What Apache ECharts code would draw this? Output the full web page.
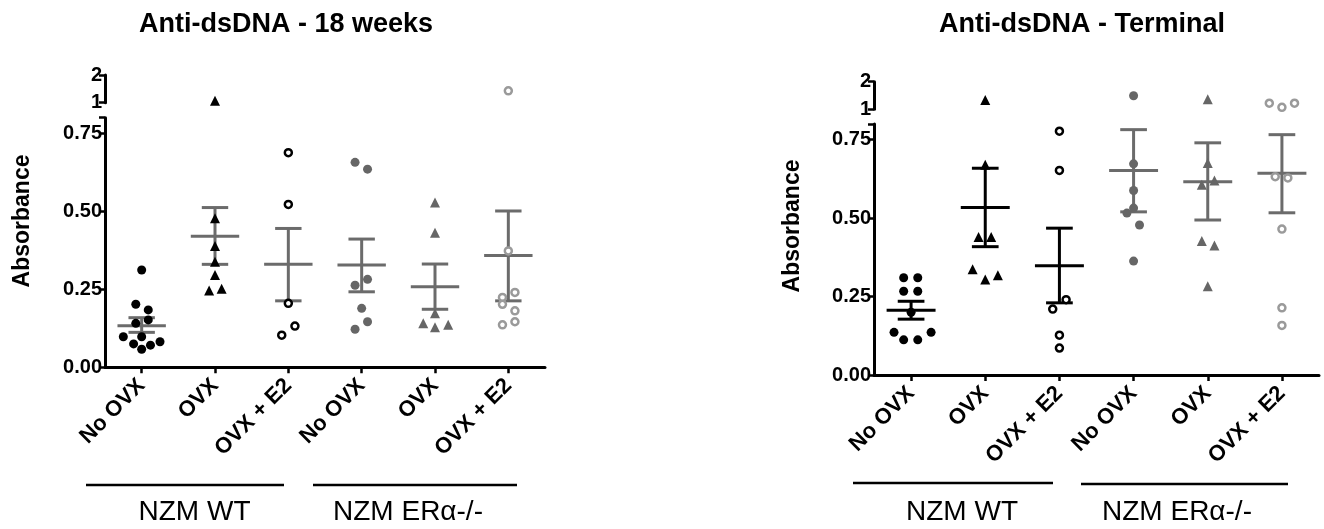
<!DOCTYPE html>
<html>
<head>
<meta charset="utf-8">
<script src="https://cdn.jsdelivr.net/npm/echarts@6/dist/echarts.min.js"></script>
<style>
  html, body { margin: 0; padding: 0; background: #fff; }
  #main { width: 1324px; height: 529px; }
</style>
</head>
<body>
<div id="main"></div>
<script>
// categories and tick labels
var categories = ["No OVX", "OVX", "OVX + E2", "No OVX", "OVX", "OVX + E2"];
var groupNames = ["NZM WT", "NZM ERα-/-"];
var yTicks = [0, 0.25, 0.5, 0.75];
var breakTicks = [1, 2];

// Anti-dsDNA - 18 weeks (values per category, horizontal jitter in category units)
var wk18Values = [
  [0.312, 0.202, 0.184, 0.141, 0.152, 0.098, 0.098, 0.075, 0.071, 0.082, 0.058],
  [1.07, 0.478, 0.389, 0.338, 0.296, 0.246, 0.252],
  [0.688, 0.522, 0.205, 0.132, 0.103],
  [0.657, 0.635, 0.282, 0.263, 0.189, 0.146, 0.122],
  [0.528, 0.431, 0.173, 0.141, 0.128, 0.136],
  [1.43, 0.373, 0.24, 0.224, 0.202, 0.181, 0.146, 0.136]
];
var wk18Jitter = [
  [0, -0.08, 0.09, -0.08, 0.09, -0.25, 0, -0.11, 0.12, 0.25, 0],
  [0, 0, 0, 0, 0, -0.08, 0.09],
  [0, 0, 0, 0.09, -0.09],
  [-0.09, 0.08, 0.08, -0.09, 0, 0.08, -0.09],
  [0, 0, 0, -0.16, 0, 0.18],
  [0, 0, 0.09, -0.08, -0.08, 0.09, 0.09, -0.08]
];
var wk18Mean = [0.133, 0.42, 0.33, 0.328, 0.258, 0.358];
var wk18SemLow = [0.112, 0.33, 0.213, 0.242, 0.186, 0.213];
var wk18SemHigh = [0.159, 0.512, 0.445, 0.411, 0.331, 0.501];

// Anti-dsDNA - Terminal
var termValues = [
  [0.31, 0.31, 0.267, 0.267, 0.2, 0.136, 0.136, 0.112, 0.112],
  [1.34, 0.67, 0.44, 0.44, 0.337, 0.304, 0.318],
  [0.777, 0.652, 0.24, 0.21, 0.127, 0.086],
  [1.49, 0.673, 0.588, 0.532, 0.516, 0.478, 0.363],
  [1.36, 0.676, 0.62, 0.606, 0.427, 0.413, 0.283],
  [1.22, 1.07, 1.22, 0.632, 0.628, 0.465, 0.214, 0.158]
];
var termJitter = [
  [-0.1, 0.09, -0.1, 0.09, 0, -0.23, 0.27, -0.1, 0.09],
  [0, 0, -0.09, 0.08, -0.17, 0, 0.17],
  [0, 0, 0.09, -0.09, 0, 0],
  [0, 0, 0, 0, -0.09, 0.08, 0],
  [0, 0, 0.09, -0.08, -0.08, 0.09, 0],
  [-0.17, 0, 0.17, -0.09, 0.08, 0, 0, 0]
];
var termMean = [0.206, 0.534, 0.348, 0.652, 0.616, 0.643];
var termSemLow = [0.178, 0.409, 0.23, 0.52, 0.494, 0.517];
var termSemHigh = [0.235, 0.659, 0.468, 0.782, 0.74, 0.766];

var FONT = "Liberation Sans, Arial, Helvetica, sans-serif";
var GREY = "#6b6b6b";
var markers = [
  { symbol: "circle", size: 9, color: "#000" },
  { symbol: "triangle", size: 10, color: "#000" },
  { symbol: "circle", size: 7, color: "#fff", border: "#000" },
  { symbol: "circle", size: 9, color: "#666" },
  { symbol: "triangle", size: 10, color: "#666" },
  { symbol: "circle", size: 7, color: "#fff", border: "#9a9a9a" }
];

var charts = [
  {
    title: "Anti-dsDNA - 18 weeks", titleX: 281,
    left: 105, width: 440, lowTop: 117.7, lowH: 249.6, upTop: 75, upH: 27.7,
    values: wk18Values, jitter: wk18Jitter, mean: wk18Mean, lo: wk18SemLow, hi: wk18SemHigh,
    barColors: [GREY, GREY, GREY, GREY, GREY, GREY],
    nameX: 23, nameY: 221,
    lines: [[86, 284, 485], [313, 517, 485]], labels: [[194.5, 512], [408, 512]]
  },
  {
    title: "Anti-dsDNA - Terminal", titleX: 1077,
    left: 874, width: 445, lowTop: 124, lowH: 251, upTop: 81.7, upH: 27.6,
    values: termValues, jitter: termJitter, mean: termMean, lo: termSemLow, hi: termSemHigh,
    barColors: ["#000", "#000", "#000", GREY, GREY, GREY],
    nameX: 793, nameY: 226,
    lines: [[853, 1053, 483], [1081, 1288, 484]], labels: [[962, 512], [1177, 512]]
  }
];

var xLine = { show: true, lineStyle: { color: "#000", width: 3 } };
var yLine = { show: true, onZero: false, lineStyle: { color: "#000", width: 3 } };
var tickStyle = { color: "#000", width: 2.5 };
var labelStyle = { color: "#000", fontFamily: FONT, fontWeight: "bold", fontSize: 20 };

var grids = [], xAxes = [], yAxes = [], series = [], titles = [], graphics = [];

function makeBars(colors) {
  return function (params, api) {
    var x = api.value(0);
    var m = api.coord([x, api.value(1)]);
    var lo = api.coord([x, api.value(2)]);
    var hi = api.coord([x, api.value(3)]);
    var band = api.size([1, 0])[0];
    var mw = band * 0.33, cw = band * 0.18;
    var style = { stroke: colors[params.dataIndex], lineWidth: 3 };
    return {
      type: "group",
      children: [
        { type: "line", shape: { x1: m[0], y1: lo[1], x2: m[0], y2: hi[1] }, style: style },
        { type: "line", shape: { x1: m[0] - mw, y1: m[1], x2: m[0] + mw, y2: m[1] }, style: style },
        { type: "line", shape: { x1: m[0] - cw, y1: lo[1], x2: m[0] + cw, y2: lo[1] }, style: style },
        { type: "line", shape: { x1: m[0] - cw, y1: hi[1], x2: m[0] + cw, y2: hi[1] }, style: style }
      ]
    };
  };
}

charts.forEach(function (c, k) {
  grids.push({ left: c.left, width: c.width, top: c.lowTop, height: c.lowH });
  grids.push({ left: c.left, width: c.width, top: c.upTop, height: c.upH });

  xAxes.push({
    type: "category", gridIndex: 2 * k, data: categories,
    axisLine: xLine,
    axisTick: { show: true, alignWithLabel: true, length: 6, lineStyle: tickStyle },
    axisLabel: { interval: 0, rotate: 45, margin: 15, color: "#000", fontFamily: FONT, fontWeight: "bold", fontSize: 22 },
    splitLine: { show: false }
  });
  xAxes.push({ type: "value", gridIndex: 2 * k, min: -0.5, max: 5.5, show: false });
  xAxes.push({ type: "value", gridIndex: 2 * k + 1, min: -0.5, max: 5.5, show: false });

  yAxes.push({
    type: "value", gridIndex: 2 * k, min: 0, max: 0.8, interval: 0.25,
    axisLine: yLine,
    axisTick: { show: true, length: 6, lineStyle: tickStyle, customValues: yTicks.concat([0.8]) },
    axisLabel: Object.assign({ margin: 3, customValues: yTicks, formatter: function (v) { return v.toFixed(2); } }, labelStyle),
    splitLine: { show: false }
  });
  yAxes.push({
    type: "value", gridIndex: 2 * k + 1, min: 1, max: 2, interval: 1,
    axisLine: yLine,
    axisTick: { show: true, length: 6, lineStyle: tickStyle, customValues: breakTicks },
    axisLabel: Object.assign({ margin: 3, customValues: breakTicks }, labelStyle),
    splitLine: { show: false }
  });

  var xLow = 3 * k + 1, xUp = 3 * k + 2, yLow = 2 * k, yUp = 2 * k + 1;

  series.push({
    type: "custom", xAxisIndex: xLow, yAxisIndex: yLow, z: 2, silent: true,
    renderItem: makeBars(c.barColors),
    encode: { x: 0, y: [1, 2, 3] },
    data: c.mean.map(function (m, i) { return [i, m, c.lo[i], c.hi[i]]; })
  });

  c.values.forEach(function (vals, g) {
    var mk = markers[g];
    var low = [], up = [];
    vals.forEach(function (v, j) {
      (v > 0.8 ? up : low).push([g + c.jitter[g][j], v]);
    });
    [[low, xLow, yLow], [up, xUp, yUp]].forEach(function (s) {
      if (!s[0].length) return;
      series.push({
        type: "scatter", xAxisIndex: s[1], yAxisIndex: s[2], z: 3, silent: true, clip: false,
        symbol: mk.symbol, symbolSize: mk.size,
        itemStyle: mk.border
          ? { color: mk.color, borderColor: mk.border, borderWidth: 2.5, opacity: 1 }
          : { color: mk.color, opacity: 1 },
        data: s[0]
      });
    });
  });

  titles.push({
    text: c.title, left: c.titleX, top: 6, textAlign: "center",
    textStyle: { fontFamily: FONT, fontWeight: "bold", fontSize: 27, color: "#000" }
  });

  graphics.push({
    type: "text", x: c.nameX, y: c.nameY, rotation: Math.PI / 2,
    style: { text: "Absorbance", fill: "#000", font: "bold 23px " + FONT, textAlign: "center", textVerticalAlign: "middle" }
  });
  c.lines.forEach(function (l) {
    graphics.push({ type: "line", shape: { x1: l[0], y1: l[2], x2: l[1], y2: l[2] }, style: { stroke: "#000", lineWidth: 2.5 } });
  });
  c.labels.forEach(function (p, i) {
    graphics.push({
      type: "text", x: p[0], y: p[1],
      style: { text: groupNames[i], fill: "#000", font: "28px " + FONT, textAlign: "center", textVerticalAlign: "middle" }
    });
  });
});

var myChart = echarts.init(document.getElementById("main"));
myChart.setOption({
  backgroundColor: "#fff",
  animation: false,
  title: titles,
  grid: grids,
  xAxis: xAxes,
  yAxis: yAxes,
  series: series,
  graphic: graphics
});
</script>
</body>
</html>
